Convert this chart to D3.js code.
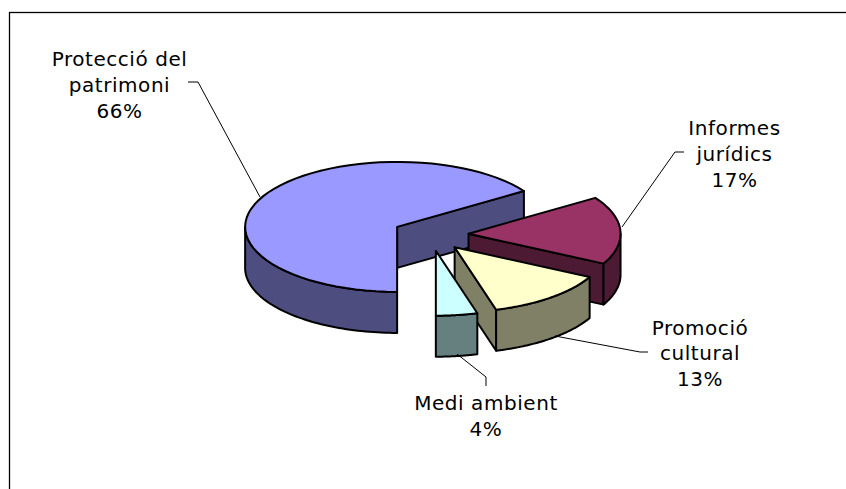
<!DOCTYPE html>
<html>
<head>
<meta charset="utf-8">
<script src="https://cdn.jsdelivr.net/npm/d3@7"></script>
<style>
  html, body { margin: 0; padding: 0; background: #fff; overflow: hidden; }
  text { font-family: "DejaVu Sans", sans-serif; font-size: 20px; letter-spacing: 0.55px; fill: #000; }
</style>
</head>
<body>
<svg id="chart"></svg>
<script>
// values, labels print them rounded
let categories = ["Protecció del patrimoni", "Informes jurídics", "Promoció cultural", "Medi ambient"]
let values = [65.7, 16.9, 13.0, 4.4]
let labelLines = [["Protecció del", "patrimoni"], ["Informes", "jurídics"], ["Promoció", "cultural"], ["Medi ambient"]]
let topColors = ["#9999ff", "#993366", "#ffffcc", "#ccffff"]
let sideColors = ["#4d4d80", "#4d1a33", "#808066", "#668080"]

let width = 846
let height = 489

let cx = 430.6
let cy = 234.6
let rx = 152
let ry = 65
let depth = 41
let explode = 0.25

let svg = d3.select("#chart").attr("width", width).attr("height", height)

// chart frame, open at the right and bottom like the picture
svg.append("rect").attr("x", 9.5).attr("y", 12.5).attr("width", 900).attr("height", 600)
  .attr("fill", "#fff").attr("stroke", "#000").attr("stroke-width", 1.3)

let pie = d3.pie().sort(null).startAngle(Math.PI).endAngle(3 * Math.PI)
let slices = pie(values)

let xUnit = d3.scaleLinear().domain([-1, 1]).range([cx - rx, cx + rx])
let yUnit = d3.scaleLinear().domain([-1, 1]).range([cy - ry, cy + ry])

let line = d3.line()

let drawSlice = (d, i) => {
  let mid = (d.startAngle + d.endAngle) / 2
  let ox = explode * Math.sin(mid)
  let oy = -explode * Math.cos(mid)
  let pt = (r, a, z) => [xUnit(ox + r * Math.sin(a)), yUnit(oy - r * Math.cos(a)) + z]
  let arcPts = (a0, a1, z) => d3.range(0, 61).map(k => pt(1, a0 + (a1 - a0) * k / 60, z))

  let g = svg.append("g").attr("class", "slice").attr("stroke", "#000")
    .attr("stroke-width", 2).attr("stroke-linejoin", "round")

  // cut walls, only the ones that face the viewer
  let cut = a => {
    g.append("path").attr("fill", sideColors[i])
      .attr("d", line([pt(0, a, 0), pt(1, a, 0), pt(1, a, depth), pt(0, a, depth)]) + "Z")
  }
  if (Math.sin(d.startAngle) < -1e-6) cut(d.startAngle)
  if (Math.sin(d.endAngle) > 1e-6) cut(d.endAngle)

  // outer wall, the part of the rim on the front half
  ;[[Math.PI / 2, 3 * Math.PI / 2], [5 * Math.PI / 2, 7 * Math.PI / 2]].forEach(f => {
    let a0 = Math.max(d.startAngle, f[0])
    let a1 = Math.min(d.endAngle, f[1])
    if (a1 <= a0) return
    g.append("path").attr("fill", sideColors[i])
      .attr("d", line(arcPts(a0, a1, 0).concat(arcPts(a1, a0, depth))) + "Z")
  })

  // top face
  g.append("path").attr("fill", topColors[i])
    .attr("d", line([pt(0, d.startAngle, 0)].concat(arcPts(d.startAngle, d.endAngle, 0))) + "Z")
}

slices.forEach(drawSlice)

// leader lines
let leaders = [
  [[188, 82], [198, 82], [260, 197]],
  [[622, 227], [675, 152], [684, 152]],
  [[555, 336], [640, 352], [648, 352]],
  [[457, 354], [486, 377], [486, 386]]
]
leaders.forEach(p => {
  svg.append("path").attr("d", line(p)).attr("fill", "none").attr("stroke", "#000").attr("stroke-width", 1)
})

// labels, name lines then the percentage
let labelX = [119.5, 734.5, 700, 486]
let labelY = [66, 135, 334.5, 410]
let lineStep = 25.8
categories.forEach((c, i) => {
  let lines = labelLines[i].concat(Math.round(values[i]) + "%")
  let t = svg.append("text").attr("text-anchor", "middle")
  lines.forEach((s, k) => {
    t.append("tspan").attr("x", labelX[i]).attr("y", labelY[i] + k * lineStep).text(s)
  })
})
</script>
</body>
</html>
